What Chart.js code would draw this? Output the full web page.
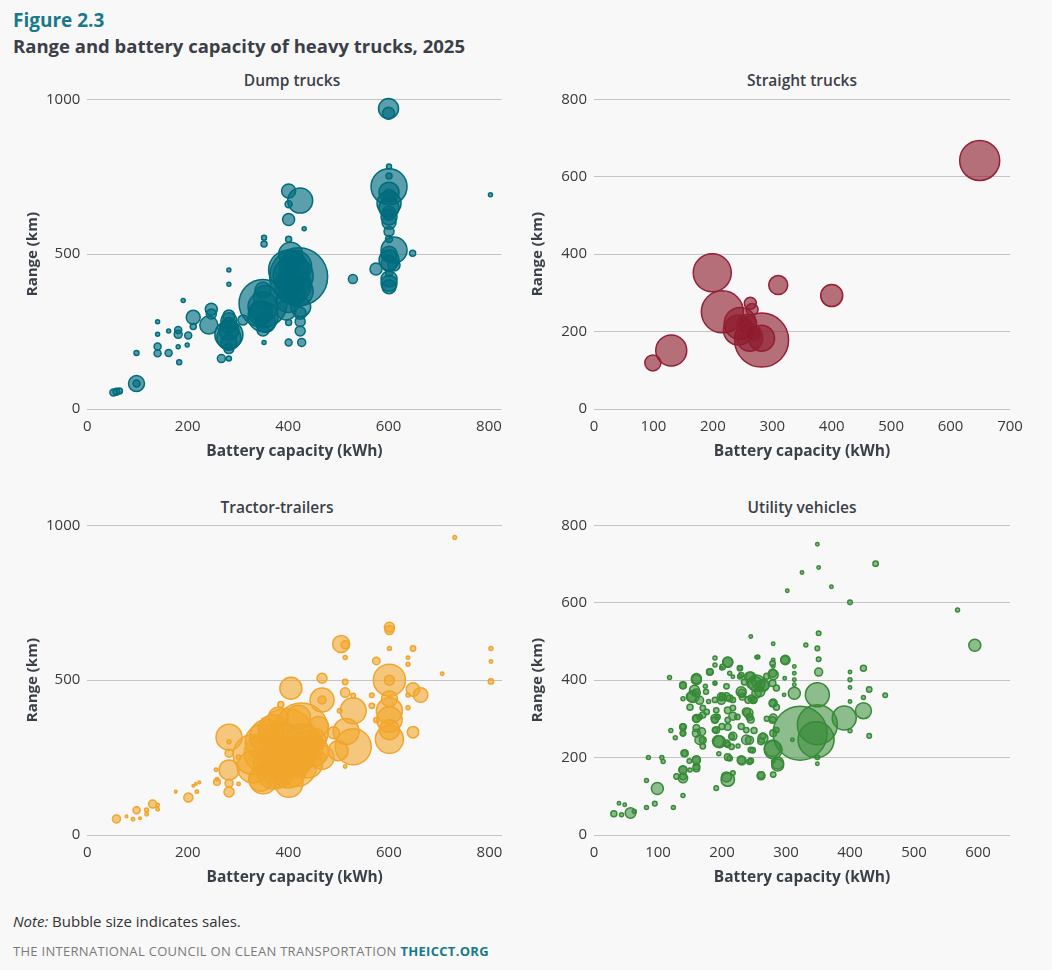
<!DOCTYPE html>
<html>
<head>
<meta charset="utf-8">
<script src="https://cdn.jsdelivr.net/npm/chart.js@4.4.1/dist/chart.umd.min.js"></script>
<style>
  body { margin: 0; background: #f8f8f8; width: 1052px; height: 970px; position: relative; overflow: hidden; font-family: "Open Sans", sans-serif; }
  .fig { position: absolute; left: 13px; top: 8px; font-size: 19px; line-height: 24px; font-weight: 700; color: #177a89; }
  .title { position: absolute; left: 13px; top: 34px; font-size: 18.5px; line-height: 24px; font-weight: 700; color: #3b4048; }
  .ptitle { position: absolute; top: 69px; font-size: 15.5px; line-height: 22px; font-weight: 600; color: #3b4048; transform: translateX(-50%); white-space: nowrap; }
  .box { position: absolute; }
  .note { position: absolute; left: 13px; top: 910px; font-size: 15px; line-height: 22px; color: #333; }
  .src { position: absolute; left: 13px; top: 942px; font-size: 13px; line-height: 18px; letter-spacing: 0.3px; color: #7a7a7a; }
  .src b { color: #177a89; }
</style>
</head>
<body>
<div class="fig">Figure 2.3</div>
<div class="title">Range and battery capacity of heavy trucks, 2025</div>

<div class="ptitle" style="left:292px">Dump trucks</div>
<div class="ptitle" style="left:802px">Straight trucks</div>
<div class="ptitle" style="left:277px;top:496px">Tractor-trailers</div>
<div class="ptitle" style="left:802px;top:496px">Utility vehicles</div>

<div class="box" style="left:0;top:62px"><canvas id="dumpChart" width="532" height="410"></canvas></div>
<div class="box" style="left:520px;top:62px"><canvas id="straightChart" width="520" height="410"></canvas></div>
<div class="box" style="left:0;top:488px"><canvas id="tractorChart" width="532" height="410"></canvas></div>
<div class="box" style="left:520px;top:488px"><canvas id="utilityChart" width="520" height="410"></canvas></div>

<div class="note"><i>Note:</i> Bubble size indicates sales.</div>
<div class="src">THE INTERNATIONAL COUNCIL ON CLEAN TRANSPORTATION <b>THEICCT.ORG</b></div>

<script>
// tick labels
const xTicks800 = [0, 200, 400, 600, 800];
const xTicks700 = [0, 100, 200, 300, 400, 500, 600, 700];
const xTicks600 = [0, 100, 200, 300, 400, 500, 600];
const yTicks1000 = [0, 500, 1000];
const yTicks800 = [0, 200, 400, 600, 800];

// dump trucks
const dumpKwh = [600,600,803,601,601,601,601,601,601,601,601,601,611,601,611,601,601,601,575,648,
  529,401,424,401,401,432,352,352,401,421,401,410,405,415,350,350,350,350,352,396,
  401,424,424,424,401,427,310,282,282,282,282,282,282,282,267,282,247,247,242,211,
  211,191,181,181,201,162,140,140,140,140,162,181,199,183,98,98,98,52,58,64,
  410,415,405,420,400,425,410,350,355,345,355,282,282,282,601,601,601,601,601,601];
const dumpRange = [970,955,692,783,752,718,690,664,632,603,573,549,513,481,465,438,406,395,452,503,
  420,704,673,661,612,582,553,533,548,427,449,480,400,370,341,384,298,255,215,320,
  279,309,282,252,215,215,287,300,270,240,215,195,449,403,163,163,322,307,271,296,
  266,350,255,241,237,252,282,241,202,180,181,201,207,151,181,82,82,53,56,58,
  430,460,500,380,350,330,400,330,360,310,280,255,230,285,700,650,620,500,470,420];
const dumpSales = [400,144,16,25,36,1296,144,576,196,196,100,49,676,400,144,49,256,196,144,36,
  81,196,625,49,144,16,25,36,36,3364,1600,400,576,400,2304,256,900,144,16,400,
  36,144,100,100,49,64,100,144,256,784,256,100,16,16,64,25,144,100,324,196,
  36,16,49,64,49,16,16,16,49,49,49,16,16,25,25,256,49,49,49,36,
  1600,1024,576,900,576,400,1296,900,576,576,400,400,576,256,400,400,256,256,256,256];

// straight trucks
const straightKwh = [649,199,216,310,400,130,99,282,246,243,263,266,282,262,257,268];
const straightRange = [642,352,251,320,293,151,119,178,221,204,273,257,183,183,218,196];
const straightSales = [1600,1444,1764,361,484,961,256,2916,1024,900,144,144,676,676,400,256];

// tractor-trailers
const tractorKwh = [731,601,601,505,513,513,601,648,638,638,803,803,803,706,575,601,601,648,663,467,
  467,467,405,385,513,513,529,529,502,601,601,601,601,601,566,566,575,638,638,648,
  529,515,499,467,467,513,396,426,350,350,401,416,357,383,282,282,282,282,282,282,
  301,301,256,258,258,342,350,223,216,211,218,201,176,130,140,140,118,118,98,78,
  91,105,58,440,380,420,360,455,490,
  330,350,370,390,410,430,450,370,400,440,330,345,460,420,380];
const tractorRange = [961,671,662,617,614,573,602,602,572,551,602,560,496,521,562,500,500,470,452,506,
  436,436,474,421,494,460,401,450,401,401,373,309,440,340,417,451,371,452,411,332,
  285,334,272,251,251,221,318,339,264,178,167,221,318,242,316,301,264,210,167,139,
  251,165,211,171,180,350,371,170,165,159,140,121,140,100,97,83,81,67,80,60,
  51,54,52,290,200,260,230,310,330,
  260,300,340,290,250,300,270,200,210,230,220,180,350,380,380];
const tractorSales = [13,100,81,289,64,16,16,29,12,16,16,12,29,12,55,1024,100,180,213,100,
  576,64,484,36,29,88,676,21,21,676,645,784,256,400,29,21,29,16,16,130,
  1296,676,400,576,64,12,3136,2916,1444,784,784,1600,1156,1600,676,16,64,400,64,100,
  21,12,12,44,12,12,12,7,7,7,12,81,7,64,12,12,16,12,49,7,
  12,7,64,900,900,1296,900,400,144,
  1600,1296,900,1936,1600,1296,900,1024,1296,784,1024,576,400,576,400];

// utility vehicles
const utilityKwh = [349,351,325,302,371,440,400,568,595,351,349,351,351,331,280,245,299,313,349,349,
  322,347,391,421,421,430,455,430,421,400,400,400,400,400,280,280,280,280,280,287,
  280,261,261,264,231,245,209,217,191,209,209,181,189,189,118,139,160,155,160,139,
  160,160,165,170,139,139,120,127,141,149,160,160,139,139,129,139,150,85,106,108,
  82,99,95,82,124,57,31,39,48,43,63,189,189,191,194,189,199,207,207,209,
  217,217,209,217,217,179,231,245,254,264,254,241,241,245,238,245,228,228,254,280,
  280,313,313,298,313,313,297,310,280,349,349,174,217,199,189,150,170,200,230,250,
  225,195,175,250,235,270,285,285,270,
  160,157,152,165,139,170,165,176,160,139,139,160,168,170,142,160,160,139,139,181,
  189,201,199,212,193,189,191,209,209,215,207,196,215,212,201,209,228,230,243,246,
  254,266,259,230,232,246,249,238,243,224,238,243,248,230,243,207,261,279,279,279,
  279,279,285,264,279,287,298,256,212];
const utilityRange = [751,691,678,631,641,701,601,581,490,521,482,454,421,491,494,513,452,366,362,285,
  263,246,302,321,431,376,361,256,355,421,401,381,345,269,220,414,341,302,263,181,
  156,153,242,256,192,192,143,160,121,201,446,422,457,439,407,386,401,358,367,352,
  301,263,246,229,280,263,270,251,211,191,194,177,168,147,151,102,168,200,200,190,
  141,120,81,71,71,57,55,82,78,52,61,349,301,322,242,271,357,384,357,322,
  307,255,233,349,328,345,366,409,392,386,366,349,315,298,246,220,431,409,459,452,
  435,435,418,405,401,388,362,246,190,201,184,384,409,431,393,330,310,280,280,270,
  230,210,370,350,395,410,380,330,300,
  404,374,357,348,387,328,305,318,301,279,263,276,267,245,211,194,172,168,151,421,
  392,357,348,353,305,297,271,297,279,254,237,241,228,198,434,447,431,413,408,392,
  395,387,370,370,357,353,348,318,305,305,271,245,219,194,189,150,155,443,418,392,
  340,297,271,250,224,186,452,460,418];
const utilitySales = [12,12,12,12,12,29,21,16,144,21,21,21,64,16,12,12,88,144,576,1600,
  2916,1296,576,256,36,29,21,21,16,12,16,12,12,16,324,100,64,64,44,144,
  29,64,44,36,74,29,180,21,21,44,100,36,16,16,16,44,100,144,64,16,
  64,64,88,29,29,29,16,16,44,21,64,44,64,88,29,16,16,16,16,16,
  16,144,21,16,16,112,36,12,12,16,16,29,64,29,130,29,64,29,64,44,
  64,64,29,29,29,16,64,88,276,144,88,44,88,44,88,29,21,21,12,12,
  12,12,12,12,12,12,12,12,12,21,12,16,12,12,12,36,36,36,36,36,
  16,16,25,36,36,36,36,36,25,
  100,100,100,64,44,29,29,29,44,44,29,44,64,44,44,64,44,64,44,44,
  16,44,64,44,29,44,44,29,44,29,44,144,29,29,29,100,29,29,100,100,
  100,100,100,100,44,44,44,64,44,29,29,64,29,64,29,100,44,29,64,44,
  44,44,29,100,276,144,64,16,16];

const textColor = "#3b4048";
Chart.defaults.font.family = '"Open Sans", sans-serif';
Chart.defaults.color = "#3a3a3a";

// bubble radius from sales (area proportional to sales), biggest drawn first
function bubbles(kwh, range, sales) {
  const idx = kwh.map((_, i) => i).sort((a, b) => sales[b] - sales[a]);
  return idx.map(i => ({ x: kwh[i], y: range[i], r: 0.5 * Math.sqrt(sales[i]) }));
}

function makeChart(id, kwh, range, sales, fill, stroke, xMax, xTicks, yMax, yTicks, padLeft, yWidth) {
  new Chart(document.getElementById(id), {
    type: "bubble",
    data: {
      datasets: [{
        data: bubbles(kwh, range, sales),
        backgroundColor: fill,
        borderColor: stroke,
        borderWidth: 1.5,
        hoverRadius: 0,
        clip: false
      }]
    },
    options: {
      responsive: false,
      animation: false,
      events: [],
      layout: { padding: { left: padLeft, right: 30, top: 37.3, bottom: 0 } },
      plugins: { legend: { display: false }, tooltip: { enabled: false } },
      scales: {
        x: {
          type: "linear",
          min: 0,
          max: xMax,
          afterBuildTicks(scale) { scale.ticks = xTicks.map(v => ({ value: v })); },
          ticks: { padding: 9, font: { size: 15 }, callback: v => String(v) },
          grid: { display: false, drawTicks: false },
          border: { display: false },
          title: {
            display: true,
            text: "Battery capacity (kWh)",
            color: textColor,
            font: { size: 15.5, weight: "bold" },
            padding: { top: 0, bottom: 11 }
          },
          afterFit(scale) { scale.height = 63; }
        },
        y: {
          min: 0,
          max: yMax,
          afterBuildTicks(scale) { scale.ticks = yTicks.map(v => ({ value: v })); },
          ticks: { padding: 7, font: { size: 15 }, callback: v => String(v) },
          grid: { color: "#c4c4c4", lineWidth: 1, drawTicks: false },
          border: { display: false },
          title: {
            display: true,
            text: "Range (km)",
            color: textColor,
            font: { size: 15, weight: "bold" },
            padding: { top: 4, bottom: 0 }
          },
          afterFit(scale) { scale.width = yWidth; }
        }
      }
    }
  });
}

makeChart("dumpChart", dumpKwh, dumpRange, dumpSales,
  "rgba(0,108,126,0.64)", "#006c7c", 825, xTicks800, 1000, yTicks1000, 20, 67.3);
makeChart("straightChart", straightKwh, straightRange, straightSales,
  "rgba(140,28,44,0.62)", "#951f37", 700, xTicks700, 800, yTicks800, 5, 69);
makeChart("tractorChart", tractorKwh, tractorRange, tractorSales,
  "rgba(241,166,42,0.6)", "#f0a52e", 825, xTicks800, 1000, yTicks1000, 20, 67.3);
makeChart("utilityChart", utilityKwh, utilityRange, utilitySales,
  "rgba(52,138,52,0.55)", "#388a38", 650, xTicks600, 800, yTicks800, 5, 69);
</script>
</body>
</html>
